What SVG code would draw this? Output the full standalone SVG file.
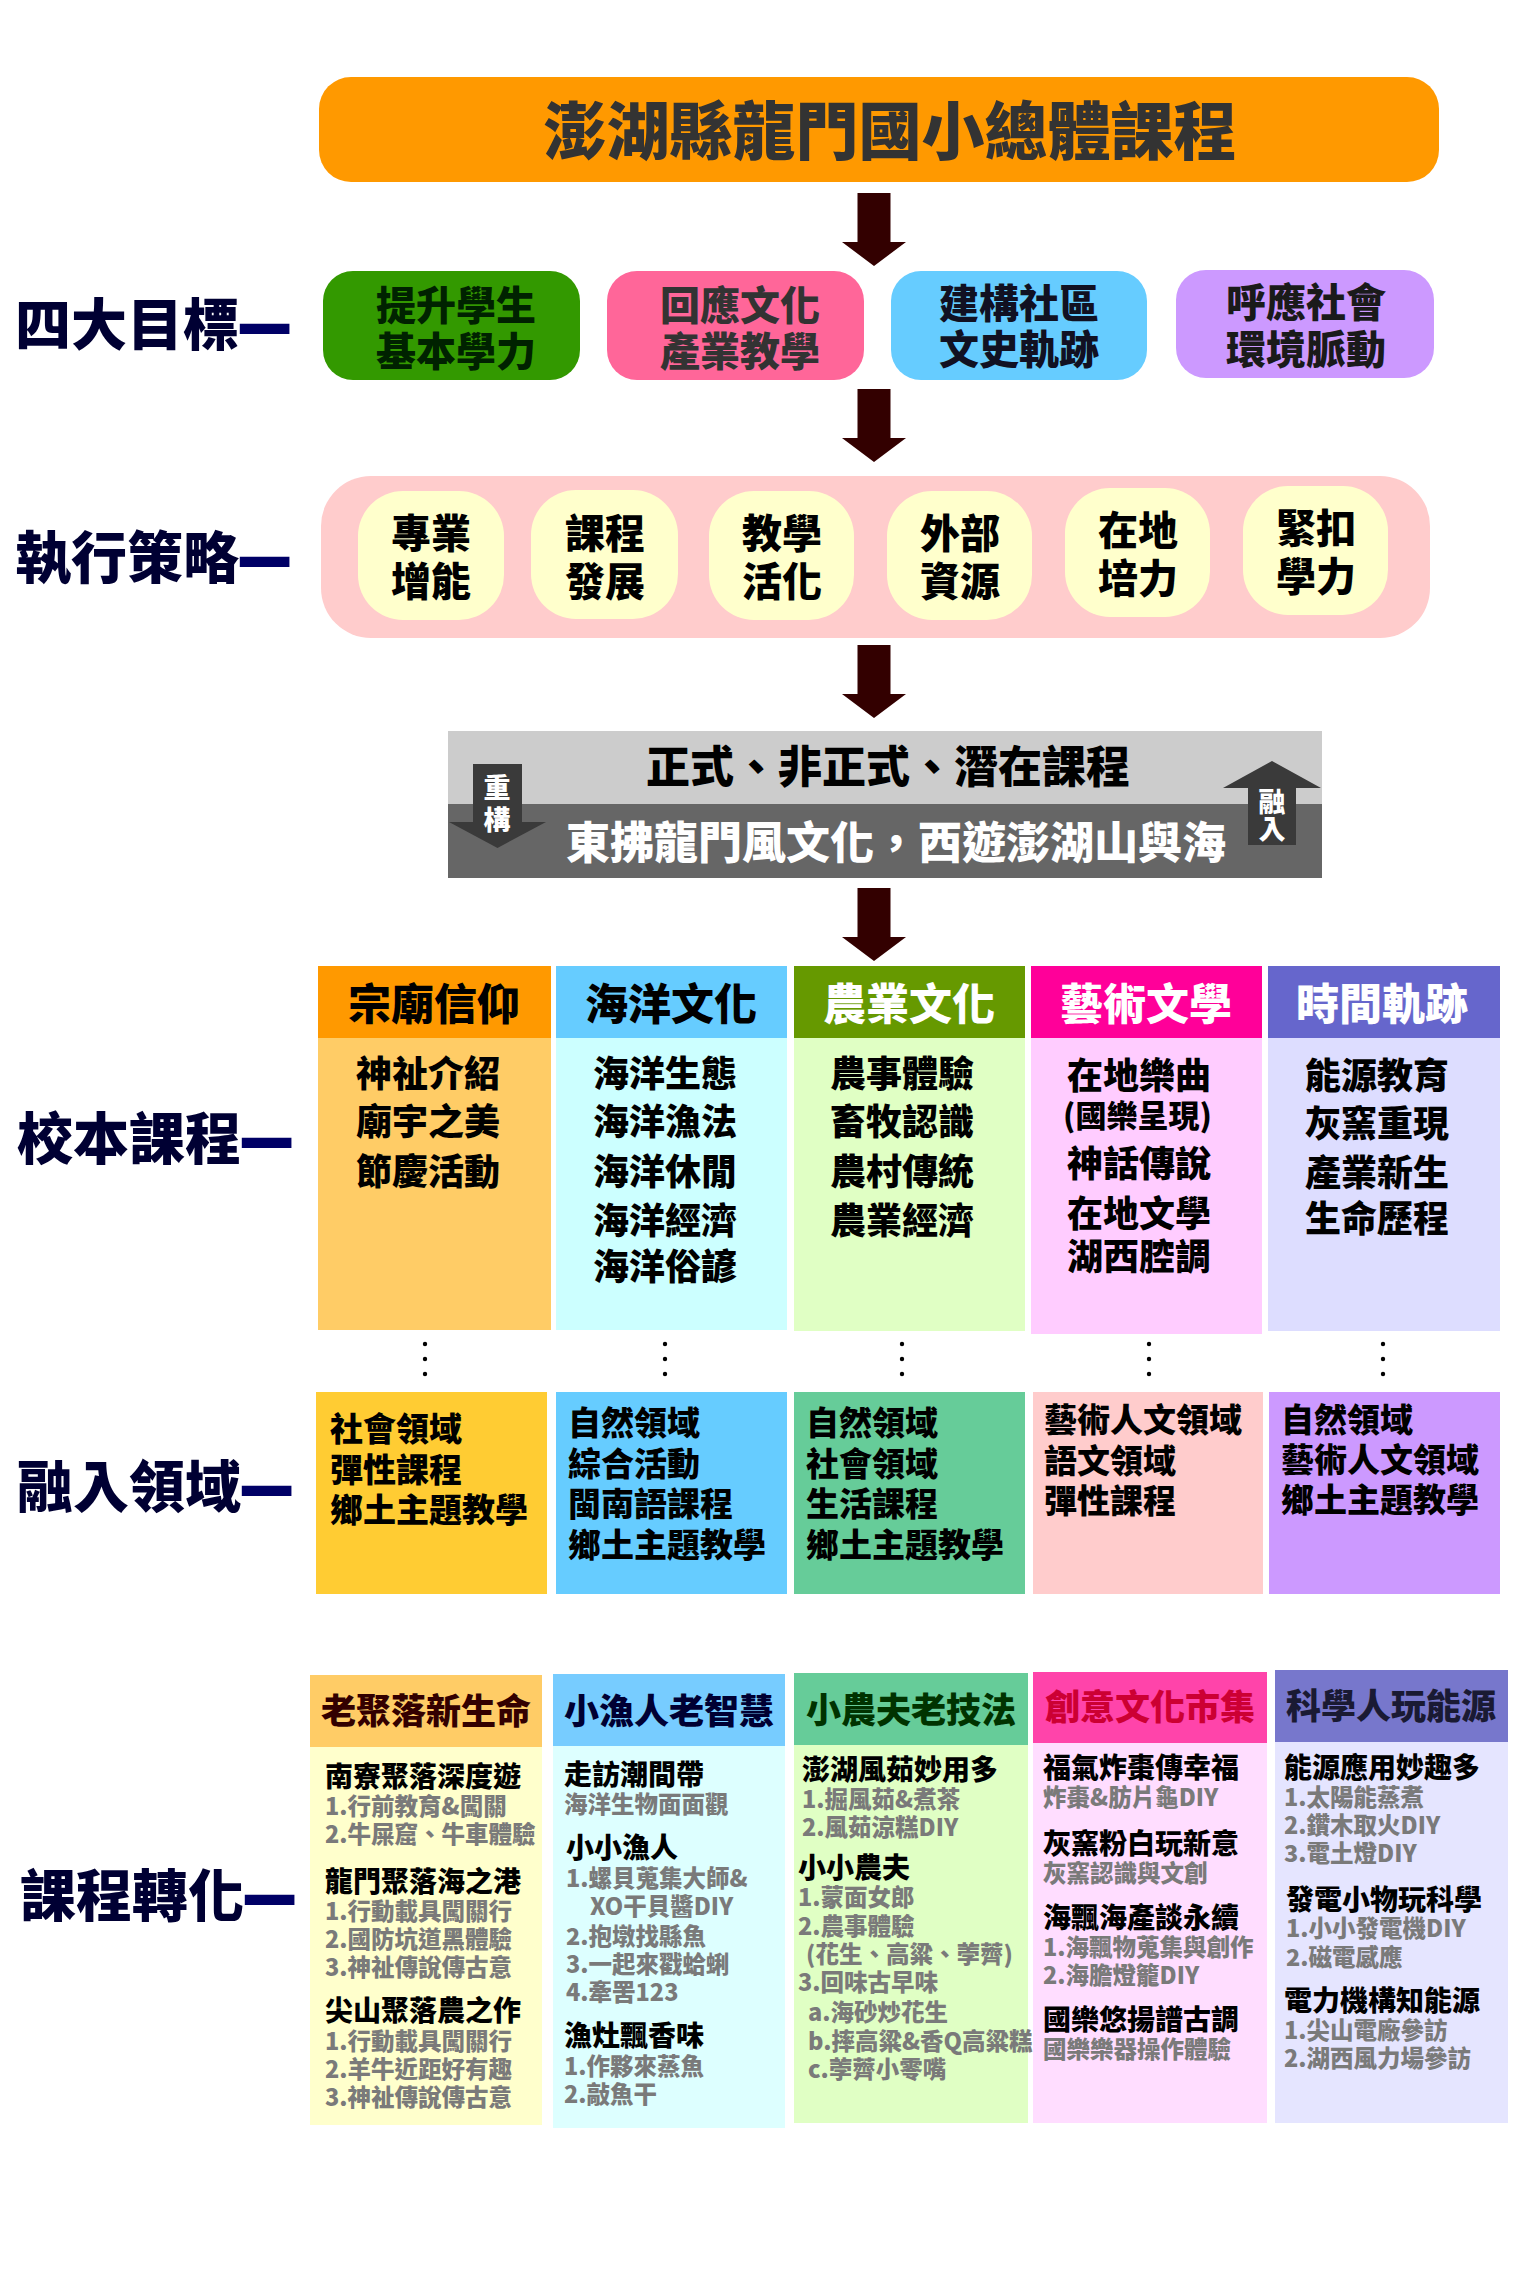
<svg xmlns="http://www.w3.org/2000/svg" width="1539" height="2284" viewBox="0 0 1539 2284">
<style>
text{font-family:"Noto Sans CJK TC","Noto Sans CJK SC",sans-serif;font-weight:900}
.lbl{font-size:56px;fill:#000033}
.dash{fill:#000066;stroke:#000066;stroke-width:4}
.title{font-size:63px;fill:#333333;text-anchor:middle}
.goal{font-size:40px;text-anchor:middle}
.strat{font-size:40px;fill:#000;text-anchor:middle}
.ban{font-size:44px;text-anchor:middle}
.varr{font-size:27px;fill:#fff;text-anchor:middle}
.h5{font-size:43px;text-anchor:middle}
.b5{font-size:36px;fill:#000}
.b6{font-size:33px;fill:#000}
.h7{font-size:35px;text-anchor:middle}
.col7{font-size:23.5px}
.hh{font-size:28px;fill:#000}
.ss{font-size:23.5px;fill:#7a7a7a}
.arr{fill:#330000}
.dot{fill:#000}
</style>
<defs>
<path id="bigArrow" d="M-16.5,0 H16.5 V49 H32 L0,73 L-32,49 H-16.5 Z"/>
</defs>
<rect width="1539" height="2284" fill="#ffffff"/>

<!-- left labels -->
<g id="labels">
<text class="lbl" x="15" y="345">四大目標<tspan class="dash">—</tspan></text>
<text class="lbl" x="15" y="578">執行策略<tspan class="dash">—</tspan></text>
<text class="lbl" x="17" y="1159">校本課程<tspan class="dash">—</tspan></text>
<text class="lbl" x="17" y="1507">融入領域<tspan class="dash">—</tspan></text>
<text class="lbl" x="20" y="1916">課程轉化<tspan class="dash">—</tspan></text>
</g>

<!-- title -->
<g id="title">
<rect x="319" y="77" width="1120" height="105" rx="32" fill="#FF9900"/>
<text class="title" x="890" y="154">澎湖縣龍門國小總體課程</text>
</g>

<!-- goals -->
<g id="goal1">
<rect x="323" y="271" width="257" height="109" rx="30" fill="#339900"/>
<text class="goal" fill="#002200" x="456" y="320">提升學生<tspan x="456" y="366">基本學力</tspan></text>
</g>
<g id="goal2">
<rect x="607" y="271" width="257" height="109" rx="30" fill="#FF6699"/>
<text class="goal" fill="#333333" x="740" y="320">回應文化<tspan x="740" y="366">產業教學</tspan></text>
</g>
<g id="goal3">
<rect x="891" y="271" width="256" height="109" rx="30" fill="#66CCFF"/>
<text class="goal" fill="#111122" x="1019" y="318">建構社區<tspan x="1019" y="364">文史軌跡</tspan></text>
</g>
<g id="goal4">
<rect x="1176" y="270" width="258" height="108" rx="30" fill="#CC99FF"/>
<text class="goal" fill="#1a1a1a" x="1306" y="317">呼應社會<tspan x="1306" y="364">環境脈動</tspan></text>
</g>

<!-- strategies -->
<g id="strategies">
<rect x="321" y="476" width="1109" height="162" rx="50" fill="#FFCCCC"/>
</g>
<g id="strat1">
<rect x="358" y="491" width="146" height="129" rx="45" fill="#FFFFCC"/>
<text class="strat" x="431" y="548">專業<tspan x="431" y="596">增能</tspan></text>
</g>
<g id="strat2">
<rect x="531" y="490" width="147" height="129" rx="45" fill="#FFFFCC"/>
<text class="strat" x="605" y="548">課程<tspan x="605" y="596">發展</tspan></text>
</g>
<g id="strat3">
<rect x="709" y="491" width="145" height="129" rx="45" fill="#FFFFCC"/>
<text class="strat" x="782" y="548">教學<tspan x="782" y="596">活化</tspan></text>
</g>
<g id="strat4">
<rect x="887" y="491" width="145" height="129" rx="45" fill="#FFFFCC"/>
<text class="strat" x="960" y="548">外部<tspan x="960" y="596">資源</tspan></text>
</g>
<g id="strat5">
<rect x="1065" y="488" width="145" height="129" rx="45" fill="#FFFFCC"/>
<text class="strat" x="1138" y="545">在地<tspan x="1138" y="593">培力</tspan></text>
</g>
<g id="strat6">
<rect x="1243" y="486" width="145" height="129" rx="45" fill="#FFFFCC"/>
<text class="strat" x="1316" y="543">緊扣<tspan x="1316" y="591">學力</tspan></text>
</g>

<!-- banner -->
<g id="banner">
<rect x="448" y="731" width="874" height="74" fill="#CCCCCC"/>
<rect x="448" y="804" width="874" height="74" fill="#666666"/>
<text class="ban" fill="#000" x="888" y="783">正式、非正式、潛在課程</text>
<text class="ban" fill="#fff" x="896" y="859">東拂龍門風文化，西遊澎湖山與海</text>
<path d="M473,764 H522 V822 H546 L497.5,848 L449,822 H473 Z" fill="#3a3a3a"/>
<text class="varr" x="497" y="798">重<tspan x="497" y="830">構</tspan></text>
<path d="M1248,845 H1296 V788 H1321 L1272,761 L1223,788 H1248 Z" fill="#3a3a3a"/>
<text class="varr" x="1272" y="812">融<tspan x="1272" y="839">入</tspan></text>
</g>

<!-- school-based curriculum -->
<g id="c5-1">
<rect x="318" y="966" width="233" height="72" fill="#FF9900"/>
<rect x="318" y="1038" width="233" height="292" fill="#FFCC66"/>
<text class="h5" fill="#000" x="434" y="1020">宗廟信仰</text>
<text class="b5" x="356" y="1087">神祉介紹<tspan x="356" y="1135">廟宇之美</tspan><tspan x="356" y="1185">節慶活動</tspan></text>
</g>
<g id="c5-2">
<rect x="556" y="966" width="231" height="72" fill="#66CCFF"/>
<rect x="556" y="1038" width="231" height="292" fill="#CCFFFF"/>
<text class="h5" fill="#000" x="671" y="1020">海洋文化</text>
<text class="b5" x="593" y="1087">海洋生態<tspan x="593" y="1135">海洋漁法</tspan><tspan x="593" y="1185">海洋休閒</tspan><tspan x="593" y="1234">海洋經濟</tspan><tspan x="593" y="1280">海洋俗諺</tspan></text>
</g>
<g id="c5-3">
<rect x="794" y="966" width="231" height="72" fill="#669900"/>
<rect x="794" y="1038" width="231" height="293" fill="#E0FFC4"/>
<text class="h5" fill="#fff" x="909" y="1020">農業文化</text>
<text class="b5" x="830" y="1087">農事體驗<tspan x="830" y="1135">畜牧認識</tspan><tspan x="830" y="1185">農村傳統</tspan><tspan x="830" y="1234">農業經濟</tspan></text>
</g>
<g id="c5-4">
<rect x="1031" y="966" width="231" height="72" fill="#FF0099"/>
<rect x="1031" y="1038" width="231" height="296" fill="#FFCCFF"/>
<text class="h5" fill="#fff" x="1146" y="1020">藝術文學</text>
<text class="b5" x="1067" y="1089">在地樂曲<tspan x="1063" y="1127" style="font-size:31px">(國樂呈現)</tspan><tspan x="1067" y="1177">神話傳說</tspan><tspan x="1067" y="1227">在地文學</tspan><tspan x="1067" y="1270">湖西腔調</tspan></text>
</g>
<g id="c5-5">
<rect x="1268" y="966" width="232" height="72" fill="#6666CC"/>
<rect x="1268" y="1038" width="232" height="293" fill="#DDDDFF"/>
<text class="h5" fill="#fff" x="1382" y="1020">時間軌跡</text>
<text class="b5" x="1305" y="1089">能源教育<tspan x="1305" y="1137">灰窯重現</tspan><tspan x="1305" y="1186">產業新生</tspan><tspan x="1305" y="1232">生命歷程</tspan></text>
</g>

<!-- integrated domains -->
<g id="c6-1">
<rect x="316" y="1392" width="231" height="202" fill="#FFCC33"/>
<text class="b6" x="330" y="1441">社會領域<tspan x="330" y="1482">彈性課程</tspan><tspan x="330" y="1522">鄉土主題教學</tspan></text>
</g>
<g id="c6-2">
<rect x="556" y="1392" width="231" height="202" fill="#66CCFF"/>
<text class="b6" x="568" y="1435">自然領域<tspan x="568" y="1476">綜合活動</tspan><tspan x="568" y="1516">閩南語課程</tspan><tspan x="568" y="1557">鄉土主題教學</tspan></text>
</g>
<g id="c6-3">
<rect x="794" y="1392" width="231" height="202" fill="#66CC99"/>
<text class="b6" x="806" y="1435">自然領域<tspan x="806" y="1476">社會領域</tspan><tspan x="806" y="1516">生活課程</tspan><tspan x="806" y="1557">鄉土主題教學</tspan></text>
</g>
<g id="c6-4">
<rect x="1033" y="1392" width="230" height="202" fill="#FFCCCC"/>
<text class="b6" x="1044" y="1432">藝術人文領域<tspan x="1044" y="1473">語文領域</tspan><tspan x="1044" y="1513">彈性課程</tspan></text>
</g>
<g id="c6-5">
<rect x="1269" y="1392" width="231" height="202" fill="#CC99FF"/>
<text class="b6" x="1281" y="1432">自然領域<tspan x="1281" y="1472">藝術人文領域</tspan><tspan x="1281" y="1512">鄉土主題教學</tspan></text>
</g>

<!-- curriculum transformation -->
<g id="c7-1">
<rect x="310" y="1675" width="232" height="72" fill="#FFCC66"/>
<rect x="310" y="1747" width="232" height="378" fill="#FFFFCC"/>
<text class="h7" fill="#330000" x="426" y="1724">老聚落新生命</text>
<text class="col7"><tspan class="hh" x="325" y="1787">南寮聚落深度遊</tspan><tspan class="ss" x="325" y="1815">1.行前教育&amp;闖關</tspan><tspan class="ss" x="325" y="1843">2.牛屎窟、牛車體驗</tspan><tspan class="hh" x="325" y="1892">龍門聚落海之港</tspan><tspan class="ss" x="325" y="1920">1.行動載具闖關行</tspan><tspan class="ss" x="325" y="1948">2.國防坑道黑體驗</tspan><tspan class="ss" x="325" y="1976">3.神祉傳說傳古意</tspan><tspan class="hh" x="325" y="2021">尖山聚落農之作</tspan><tspan class="ss" x="325" y="2050">1.行動載具闖關行</tspan><tspan class="ss" x="325" y="2078">2.羊牛近距好有趣</tspan><tspan class="ss" x="325" y="2106">3.神祉傳說傳古意</tspan></text>
</g>
<g id="c7-2">
<rect x="553" y="1674" width="232" height="72" fill="#77CCFF"/>
<rect x="553" y="1746" width="232" height="382" fill="#DDFFFF"/>
<text class="h7" fill="#000033" x="669" y="1724">小漁人老智慧</text>
<text class="col7"><tspan class="hh" x="564" y="1785">走訪潮間帶</tspan><tspan class="ss" x="564" y="1813">海洋生物面面觀</tspan><tspan class="hh" x="566" y="1858">小小漁人</tspan><tspan class="ss" x="566" y="1887">1.螺貝蒐集大師&amp;</tspan><tspan class="ss" x="590" y="1915">XO干貝醬DIY</tspan><tspan class="ss" x="566" y="1945">2.抱墩找縣魚</tspan><tspan class="ss" x="566" y="1973">3.一起來戳蛤蜊</tspan><tspan class="ss" x="566" y="2001">4.牽罟123</tspan><tspan class="hh" x="564" y="2046">漁灶飄香味</tspan><tspan class="ss" x="564" y="2075">1.作夥來蒸魚</tspan><tspan class="ss" x="564" y="2103">2.敲魚干</tspan></text>
</g>
<g id="c7-3">
<rect x="794" y="1673" width="234" height="72" fill="#66CC99"/>
<rect x="794" y="1745" width="234" height="378" fill="#E0FFC4"/>
<text class="h7" fill="#003300" x="911" y="1723">小農夫老技法</text>
<text class="col7"><tspan class="hh" x="802" y="1780">澎湖風茹妙用多</tspan><tspan class="ss" x="802" y="1808">1.掘風茹&amp;煮茶</tspan><tspan class="ss" x="802" y="1836">2.風茹涼糕DIY</tspan><tspan class="hh" x="798" y="1878">小小農夫</tspan><tspan class="ss" x="798" y="1906">1.蒙面女郎</tspan><tspan class="ss" x="798" y="1935">2.農事體驗</tspan><tspan class="ss" x="806" y="1963">(花生、高粱、荸薺)</tspan><tspan class="ss" x="798" y="1991">3.回味古早味</tspan><tspan class="ss" x="808" y="2021">a.海砂炒花生</tspan><tspan class="ss" x="808" y="2050">b.摔高粱&amp;香Q高粱糕</tspan><tspan class="ss" x="808" y="2078">c.荸薺小零嘴</tspan></text>
</g>
<g id="c7-4">
<rect x="1033" y="1672" width="234" height="71" fill="#FF44AA"/>
<rect x="1033" y="1743" width="234" height="380" fill="#FFDDFF"/>
<text class="h7" fill="#CC0033" x="1150" y="1720">創意文化市集</text>
<text class="col7"><tspan class="hh" x="1043" y="1778">福氣炸棗傳幸福</tspan><tspan class="ss" x="1043" y="1806">炸棗&amp;肪片龜DIY</tspan><tspan class="hh" x="1043" y="1854">灰窯粉白玩新意</tspan><tspan class="ss" x="1043" y="1882">灰窯認識與文創</tspan><tspan class="hh" x="1043" y="1928">海飄海產談永續</tspan><tspan class="ss" x="1043" y="1956">1.海飄物蒐集與創作</tspan><tspan class="ss" x="1043" y="1984">2.海膽燈籠DIY</tspan><tspan class="hh" x="1043" y="2030">國樂悠揚譜古調</tspan><tspan class="ss" x="1043" y="2058">國樂樂器操作體驗</tspan></text>
</g>
<g id="c7-5">
<rect x="1275" y="1670" width="233" height="72" fill="#7777CC"/>
<rect x="1275" y="1742" width="233" height="381" fill="#E5E5FF"/>
<text class="h7" fill="#1a1a33" x="1391" y="1719">科學人玩能源</text>
<text class="col7"><tspan class="hh" x="1284" y="1778">能源應用妙趣多</tspan><tspan class="ss" x="1284" y="1806">1.太陽能蒸煮</tspan><tspan class="ss" x="1284" y="1834">2.鑽木取火DIY</tspan><tspan class="ss" x="1284" y="1862">3.電土燈DIY</tspan><tspan class="hh" x="1286" y="1910">發電小物玩科學</tspan><tspan class="ss" x="1286" y="1937">1.小小發電機DIY</tspan><tspan class="ss" x="1286" y="1966">2.磁電感應</tspan><tspan class="hh" x="1284" y="2011">電力機構知能源</tspan><tspan class="ss" x="1284" y="2039">1.尖山電廠參訪</tspan><tspan class="ss" x="1284" y="2067">2.湖西風力場參訪</tspan></text>
</g>

<!-- connectors -->
<g id="connectors">
<use href="#bigArrow" class="arr" x="874" y="193"/>
<use href="#bigArrow" class="arr" x="874" y="389"/>
<use href="#bigArrow" class="arr" x="874" y="645"/>
<use href="#bigArrow" class="arr" x="874" y="888"/>
<g class="dot">
<circle cx="425" cy="1344" r="2.2"/><circle cx="425" cy="1359" r="2.2"/><circle cx="425" cy="1374" r="2.2"/>
<circle cx="665" cy="1344" r="2.2"/><circle cx="665" cy="1359" r="2.2"/><circle cx="665" cy="1374" r="2.2"/>
<circle cx="902" cy="1344" r="2.2"/><circle cx="902" cy="1359" r="2.2"/><circle cx="902" cy="1374" r="2.2"/>
<circle cx="1149" cy="1344" r="2.2"/><circle cx="1149" cy="1359" r="2.2"/><circle cx="1149" cy="1374" r="2.2"/>
<circle cx="1383" cy="1344" r="2.2"/><circle cx="1383" cy="1359" r="2.2"/><circle cx="1383" cy="1374" r="2.2"/>
</g>
</g>
</svg>
